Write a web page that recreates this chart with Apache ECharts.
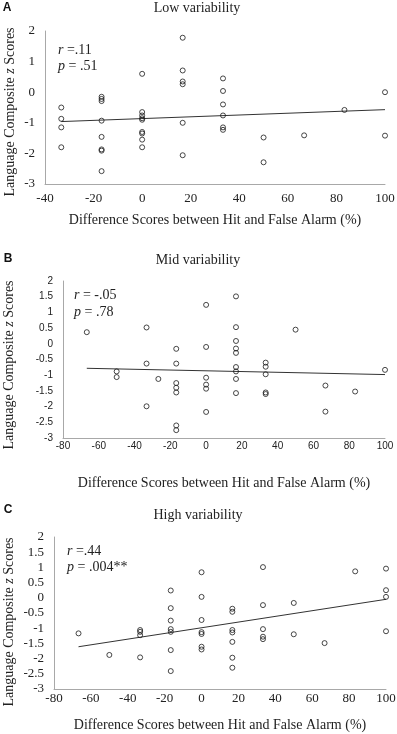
<!DOCTYPE html>
<html>
<head>
<meta charset="utf-8">
<script src="https://cdn.jsdelivr.net/npm/echarts@6/dist/echarts.min.js"></script>
<style>
  html, body { margin: 0; padding: 0; background: #fff; }
  #chart { width: 397px; height: 734px; }
</style>
</head>
<body>
<div id="chart"></div>
<script>
// panel titles and stats text
const panelLetters = ['A', 'B', 'C']
const panelTitles = ['Low variability', 'Mid variability', 'High variability']
const rValues = ['=.11', '= -.05', '=.44']
const pValues = ['= .51', '= .78', '= .004**']

// ticks
const xTicksA = [-40, 100, 20]   // min, max, interval
const xTicksBC = [-80, 100, 20]
const yTicksA = [-3, 2, 1]
const yTicksBC = [-3, 2, 0.5]

// [difference score %, language composite z]
const lowPoints = [
  [-33.3, -0.5], [-33.3, -0.87], [-33.3, -1.15], [-33.3, -1.8],
  [-16.7, -0.15], [-16.7, -0.22], [-16.7, -0.29], [-16.7, -0.93], [-16.7, -1.46], [-16.7, -1.87], [-16.7, -1.91], [-16.7, -2.58],
  [0, 0.6], [0, -0.65], [0, -0.76], [0, -0.85], [0, -0.9], [0, -1.3], [0, -1.35], [0, -1.55], [0, -1.8],
  [16.7, 1.78], [16.7, 0.71], [16.7, 0.35], [16.7, 0.26], [16.7, -1.0], [16.7, -2.06],
  [33.3, 0.45], [33.3, 0.04], [33.3, -0.4], [33.3, -0.76], [33.3, -1.15], [33.3, -1.23],
  [50, -1.48], [50, -2.29],
  [66.7, -1.41],
  [83.3, -0.58],
  [100, 0.0], [100, -1.42]
]
const midPoints = [
  [-66.7, 0.37],
  [-50, -0.88], [-50, -1.06],
  [-33.3, 0.52], [-33.3, -0.63], [-33.3, -1.99],
  [-26.7, -1.12],
  [-16.7, -0.16], [-16.7, -0.63], [-16.7, -1.25], [-16.7, -1.4], [-16.7, -1.55], [-16.7, -2.6], [-16.7, -2.75],
  [0, 1.24], [0, -0.1], [0, -1.08], [0, -1.3], [0, -1.43], [0, -2.17],
  [16.7, 1.51], [16.7, 0.53], [16.7, 0.09], [16.7, -0.15], [16.7, -0.29], [16.7, -0.74], [16.7, -0.88], [16.7, -1.12], [16.7, -1.57],
  [33.3, -0.6], [33.3, -0.73], [33.3, -0.97], [33.3, -1.55], [33.3, -1.6],
  [50, 0.45],
  [66.7, -1.33], [66.7, -2.16],
  [83.3, -1.52],
  [100, -0.83]
]
const highPoints = [
  [-66.7, -1.17],
  [-50, -1.88],
  [-33.3, -1.06], [-33.3, -1.12], [-33.3, -1.23], [-33.3, -1.96],
  [-16.7, 0.24], [-16.7, -0.34], [-16.7, -0.75], [-16.7, -1.03], [-16.7, -1.12], [-16.7, -1.72], [-16.7, -2.41],
  [0, 0.84], [0, 0.03], [0, -0.73], [0, -1.13], [0, -1.19], [0, -1.61], [0, -1.7],
  [16.7, -0.36], [16.7, -0.46], [16.7, -1.06], [16.7, -1.14], [16.7, -1.45], [16.7, -1.97], [16.7, -2.3],
  [33.3, 1.01], [33.3, -0.24], [33.3, -1.03], [33.3, -1.28], [33.3, -1.36],
  [50, -0.17], [50, -1.2],
  [66.7, -1.49],
  [83.3, 0.87],
  [100, 0.96], [100, 0.25], [100, 0.03], [100, -1.1]
]

// fitted regression lines (end points)
const lowFit = [[-33.3, -0.96], [100, -0.57]]
const midFit = [[-66.7, -0.78], [100, -0.98]]
const highFit = [[-66.7, -1.61], [100, -0.05]]

const serif = 'Liberation Serif'
const sans = 'Liberation Sans'
const axisGrey = '#a8a8a8'

const grids = [
  { left: 45, right: 12, top: 31, height: 153 },
  { left: 63, right: 12, top: 281, height: 157 },
  { left: 54, right: 11, top: 537, height: 152 }
]
const tickFonts = [
  { fontFamily: serif, fontSize: 13, xMargin: 8, yMargin: 10 },
  { fontFamily: sans, fontSize: 10, xMargin: 3, yMargin: 10 },
  { fontFamily: serif, fontSize: 13, xMargin: 3, yMargin: 10 }
]
const xNameGaps = [29, 38, 29]
const yTitlePos = [[10, 112], [9, 365], [9, 622]]
const titlePos = [[197, 8], [198, 260], [198, 515]]
const letterPos = [[7, 8], [8, 259], [8, 510]]
const statPos = [[58, 50, 66], [74, 295, 312], [67, 551, 567]]

const chart = echarts.init(document.getElementById('chart'), null, { renderer: 'canvas' })

const xTicks = [xTicksA, xTicksBC, xTicksBC]
const yTicks = [yTicksA, yTicksBC, yTicksBC]

const xAxes = grids.map((g, i) => ({
  type: 'value', gridIndex: i,
  min: xTicks[i][0], max: xTicks[i][1], interval: xTicks[i][2],
  name: 'Difference Scores between Hit and False Alarm (%)',
  nameLocation: 'middle', nameGap: xNameGaps[i],
  nameTextStyle: { fontFamily: serif, fontSize: 14, color: '#222' },
  axisLine: { show: true, onZero: false, lineStyle: { color: axisGrey, width: 1 } },
  axisTick: { show: false },
  splitLine: { show: false },
  axisLabel: { color: '#222', fontFamily: tickFonts[i].fontFamily, fontSize: tickFonts[i].fontSize, margin: tickFonts[i].xMargin }
}))

const yAxes = grids.map((g, i) => ({
  type: 'value', gridIndex: i,
  min: yTicks[i][0], max: yTicks[i][1], interval: yTicks[i][2],
  axisLine: { show: true, onZero: false, lineStyle: { color: axisGrey, width: 1 } },
  axisTick: { show: false },
  splitLine: { show: false },
  axisLabel: { color: '#222', fontFamily: tickFonts[i].fontFamily, fontSize: tickFonts[i].fontSize, margin: tickFonts[i].yMargin }
}))

const pointSets = [lowPoints, midPoints, highPoints]
const fits = [lowFit, midFit, highFit]
const series = []
pointSets.forEach((pts, i) => {
  series.push({
    type: 'scatter', xAxisIndex: i, yAxisIndex: i,
    data: pts, symbol: 'circle', symbolSize: 5,
    itemStyle: { color: 'rgba(255,255,255,0)', borderColor: '#1a1a1a', borderWidth: 1 },
    emphasis: { disabled: true }, z: 3
  })
  series.push({
    type: 'line', xAxisIndex: i, yAxisIndex: i,
    data: fits[i], symbol: 'none',
    lineStyle: { color: '#333', width: 1 },
    emphasis: { disabled: true }, z: 2
  })
})

const ital = { fontFamily: serif, fontSize: 14, fontStyle: 'italic', fill: '#222' }
const norm = { fontFamily: serif, fontSize: 14, fill: '#222' }
const graphics = []
panelLetters.forEach((l, i) => {
  graphics.push({
    type: 'text', x: letterPos[i][0], y: letterPos[i][1],
    style: { text: l, fontFamily: sans, fontSize: 12, fontWeight: 'bold', fill: '#111', align: 'center', verticalAlign: 'middle' }
  })
  graphics.push({
    type: 'text', x: titlePos[i][0], y: titlePos[i][1],
    style: { text: panelTitles[i], fontFamily: serif, fontSize: 14, fill: '#222', align: 'center', verticalAlign: 'middle' }
  })
  graphics.push({
    type: 'text', x: yTitlePos[i][0], y: yTitlePos[i][1], rotation: Math.PI / 2,
    style: {
      text: '{n|Language Composite }{i|z}{n| Scores}',
      rich: { n: norm, i: ital },
      fontFamily: serif, fontSize: 14, fill: '#222', align: 'center', verticalAlign: 'middle'
    }
  })
  graphics.push({
    type: 'text', x: statPos[i][0], y: statPos[i][1],
    style: {
      text: '{i|r} {n|' + rValues[i] + '}',
      rich: { n: norm, i: ital },
      fontFamily: serif, fontSize: 14, fill: '#222', align: 'left', verticalAlign: 'middle'
    }
  })
  graphics.push({
    type: 'text', x: statPos[i][0], y: statPos[i][2],
    style: {
      text: '{i|p} {n|' + pValues[i] + '}',
      rich: { n: norm, i: ital },
      fontFamily: serif, fontSize: 14, fill: '#222', align: 'left', verticalAlign: 'middle'
    }
  })
})

chart.setOption({
  animation: false,
  backgroundColor: '#fff',
  grid: grids.map(g => Object.assign({ containLabel: false, outerBoundsMode: 'none' }, g)),
  xAxis: xAxes,
  yAxis: yAxes,
  series: series,
  graphic: graphics
})
</script>
</body>
</html>
